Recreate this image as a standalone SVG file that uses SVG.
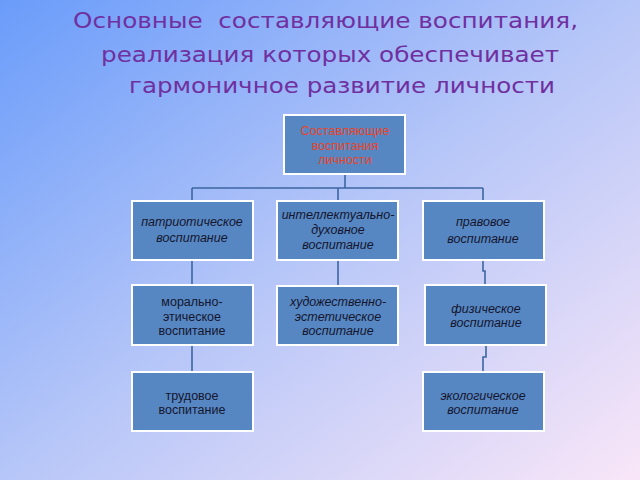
<svg xmlns="http://www.w3.org/2000/svg" width="640" height="480" viewBox="0 0 640 480">
<defs>
<linearGradient id="bg" x1="0" y1="0" x2="1" y2="1">
<stop offset="0" stop-color="#6a9cfa"/>
<stop offset="0.5" stop-color="#b6c6f8"/>
<stop offset="1" stop-color="#f9e6f8"/>
</linearGradient>
<style>
.box{fill:#5687c2;stroke:#ffffff;stroke-width:2}
.t{font-family:"Liberation Sans",Arial,sans-serif;font-size:12.5px;text-anchor:middle;fill:#15152e}
.i{font-style:italic}
.red{fill:#e8442a}
.title{font-family:"DejaVu Sans",sans-serif;font-size:22px;fill:#7030a0;white-space:pre}
.c{fill:none;stroke:#3c66a0;stroke-width:1.6}
</style>
</defs>
<rect x="0" y="0" width="640" height="480" fill="url(#bg)"/>
<g id="title">
<text class="title" x="73" y="28" textLength="505" lengthAdjust="spacingAndGlyphs" xml:space="preserve">Основные  составляющие воспитания,</text>
<text class="title" x="101" y="62" textLength="458" lengthAdjust="spacingAndGlyphs">реализация которых обеспечивает</text>
<text class="title" x="129" y="93" textLength="426" lengthAdjust="spacingAndGlyphs">гармоничное развитие личности</text>
</g>
<g id="connectors">
<path class="c" d="M345 174V188M192 188H483M192 188V201M338 188V201M483 188V201"/>
<path class="c" d="M192 260V285M338 260V286M483 260V271H485V285"/>
<path class="c" d="M192 345V372M486 345V357H483V372"/>
</g>
<g id="root">
<rect class="box" x="284" y="115" width="121" height="59"/>
<text class="t red" x="345" y="135">Составляющие</text>
<text class="t red" x="345" y="150">воспитания</text>
<text class="t red" x="345" y="164">личности</text>
</g>
<g id="patriot">
<rect class="box" x="132" y="201" width="121" height="59"/>
<text class="t i" x="192" y="226">патриотическое</text>
<text class="t i" x="192" y="242">воспитание</text>
</g>
<g id="intellect">
<rect class="box" x="277" y="201" width="121" height="59"/>
<text class="t i" x="338" y="219">интеллектуально-</text>
<text class="t i" x="338" y="234">духовное</text>
<text class="t i" x="338" y="249">воспитание</text>
</g>
<g id="pravo">
<rect class="box" x="423" y="201" width="121" height="59"/>
<text class="t i" x="483" y="226">правовое</text>
<text class="t i" x="483" y="243">воспитание</text>
</g>
<g id="moral">
<rect class="box" x="132" y="285" width="121" height="60"/>
<text class="t" x="192" y="306">морально-</text>
<text class="t" x="192" y="321">этическое</text>
<text class="t" x="192" y="335">воспитание</text>
</g>
<g id="art">
<rect class="box" x="277" y="286" width="121" height="59"/>
<text class="t i" x="338" y="306">художественно-</text>
<text class="t i" x="338" y="321">эстетическое</text>
<text class="t i" x="338" y="335">воспитание</text>
</g>
<g id="phys">
<rect class="box" x="425" y="285" width="121" height="60"/>
<text class="t i" x="486" y="313">физическое</text>
<text class="t i" x="486" y="327">воспитание</text>
</g>
<g id="labor">
<rect class="box" x="132" y="372" width="121" height="59"/>
<text class="t" x="192" y="400">трудовое</text>
<text class="t" x="192" y="414">воспитание</text>
</g>
<g id="eco">
<rect class="box" x="423" y="372" width="121" height="59"/>
<text class="t i" x="483" y="400">экологическое</text>
<text class="t i" x="483" y="414">воспитание</text>
</g>
</svg>
